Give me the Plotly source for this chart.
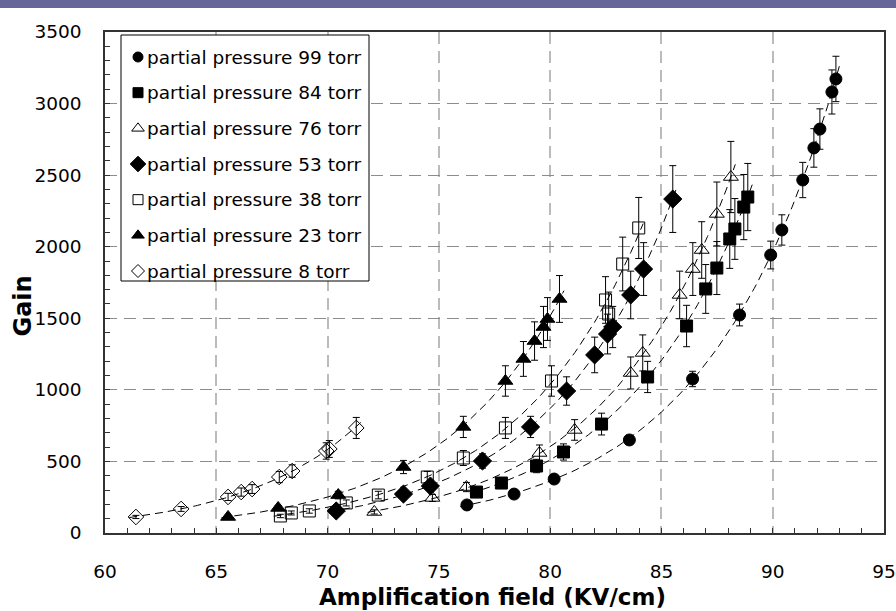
import numpy as np
import plotly.graph_objects as go

# ---- data ----
x99 = [76.26, 78.38, 80.18, 83.56, 86.40, 88.51, 89.91, 90.41, 91.35, 91.85, 92.12, 92.66, 92.84]
y99 = [196, 272, 377, 650, 1076, 1523, 1942, 2117, 2466, 2690, 2822, 3081, 3172]

x84 = [76.69, 77.81, 79.39, 80.60, 82.31, 84.38, 86.13, 86.99, 87.49, 88.07, 88.30, 88.70, 88.88]
y84 = [286, 349, 468, 566, 761, 1090, 1446, 1705, 1851, 2054, 2124, 2277, 2347]

x76 = [72.10, 74.71, 76.24, 79.52, 81.10, 83.62, 84.16, 85.82, 86.41, 86.81, 87.49, 88.12]
y76 = [147, 245, 321, 559, 720, 1118, 1258, 1663, 1844, 1977, 2229, 2487]

x53 = [70.39, 73.41, 74.62, 76.96, 79.12, 80.74, 82.00, 82.58, 82.81, 83.62, 84.20, 85.51]
y53 = [154, 272, 328, 503, 741, 992, 1244, 1390, 1439, 1663, 1844, 2333]

x38 = [67.88, 68.37, 69.18, 70.84, 72.28, 74.48, 76.10, 77.99, 80.06, 82.49, 82.63, 83.26, 83.98]
y38 = [119, 140, 154, 210, 265, 391, 524, 734, 1062, 1628, 1530, 1879, 2131]

x23 = [65.53, 67.78, 70.48, 73.41, 76.10, 77.99, 78.80, 79.30, 79.70, 79.88, 80.42]
y23 = [112, 175, 265, 461, 741, 1062, 1216, 1341, 1439, 1495, 1635]

x8 = [61.39, 63.42, 65.53, 66.12, 66.61, 67.83, 68.41, 69.94, 70.08, 71.29]
y8 = [112, 168, 252, 286, 307, 391, 433, 573, 587, 734]

names = ["partial pressure 99 torr", "partial pressure 84 torr", "partial pressure 76 torr",
         "partial pressure 53 torr", "partial pressure 38 torr", "partial pressure 23 torr",
         "partial pressure 8 torr"]
err_pct = [5, 10, 10, 10, 10, 10, 10]

xticks = [60, 65, 70, 75, 80, 85, 90, 95]
yticks = [0, 500, 1000, 1500, 2000, 2500, 3000, 3500]

series = [(x99, y99), (x84, y84), (x76, y76), (x53, y53), (x38, y38), (x23, y23), (x8, y8)]
symbols = ["circle", "square", "triangle-up-open", "diamond", "square-open", "triangle-up", "diamond-open"]
sizes = [12, 12, 13, 14, 12, 13, 12]
leg_sizes = [10, 10, 11, 12, 10, 11, 10]

FONT = "DejaVu Sans, Arial, sans-serif"
fig = go.Figure()

# fit curves (exponential fit of the data)
for (xs, ys) in series:
    xa = np.array(xs); ya = np.array(ys)
    b, a = np.polyfit(xa, np.log(ya), 1)
    xf = np.linspace(xa.min() - 0.3, xa.max() + 0.2, 120)
    fig.add_trace(go.Scatter(x=xf, y=np.exp(a + b * xf), mode="lines",
                             line=dict(color="black", width=1, dash="8px,5px"),
                             showlegend=False, hoverinfo="skip"))

for i, (xs, ys) in enumerate(series):
    fig.add_trace(go.Scatter(
        x=xs, y=ys, mode="markers", name=names[i], showlegend=False,
        marker=dict(symbol=symbols[i], size=sizes[i], color="black",
                    line=dict(color="black", width=1)),
        error_y=dict(type="percent", value=err_pct[i], color="black", thickness=1, width=3.5),
    ))

# ---- hand-made legend on a pixel-unit overlay axis ----
L_LEFT, L_RIGHT, L_TOP, L_BOT = 121, 369, 35, 281
row_y = list(np.linspace(57, 271, len(names)))
fig.add_trace(go.Scatter(x=[L_LEFT, L_RIGHT, L_RIGHT, L_LEFT, L_LEFT],
                         y=[L_TOP, L_TOP, L_BOT, L_BOT, L_TOP],
                         xaxis="x2", yaxis="y2", mode="lines", fill="toself",
                         fillcolor="white", line=dict(color="black", width=1),
                         showlegend=False, hoverinfo="skip"))
for i in range(len(names)):
    fig.add_trace(go.Scatter(x=[138], y=[row_y[i]], xaxis="x2", yaxis="y2", mode="markers",
                             marker=dict(symbol=symbols[i], size=leg_sizes[i], color="black",
                                         line=dict(color="black", width=1)),
                             showlegend=False, hoverinfo="skip"))
    fig.add_annotation(xref="x2", yref="y2", x=145, y=row_y[i], text=names[i],
                       xanchor="left", yanchor="middle", showarrow=False,
                       font=dict(size=18.5, family=FONT, color="black"))

# purple band at the top of the page
fig.add_shape(type="rect", xref="paper", yref="paper", x0=-0.2, x1=1.2,
              y0=1 + 24 / 501, y1=1 + 40 / 501, fillcolor="#666699", line=dict(width=0), layer="above")

fig.update_layout(
    width=896, height=611,
    margin=dict(l=105, r=12, t=32, b=78, autoexpand=False),
    paper_bgcolor="white", plot_bgcolor="white",
    font=dict(family=FONT, size=18.5, color="black"),
    showlegend=False,
    xaxis=dict(range=[60, 95], tickvals=xticks, ticks="inside", ticklen=5, tickcolor="#333",
               showline=True, linecolor="#333", linewidth=1.5, mirror=True, automargin=False,
               showgrid=True, gridcolor="#bbbbbb", gridwidth=2, griddash="12px,7px",
               minor=dict(dtick=1, ticks="inside", ticklen=5, tickcolor="#333", showgrid=False),
               ticklabelstandoff=21, zeroline=False),
    yaxis=dict(range=[0, 3500], tickvals=yticks, ticks="inside", ticklen=5, tickcolor="#333",
               showline=True, linecolor="#333", linewidth=1.5, mirror=True, automargin=False,
               showgrid=True, gridcolor="#8c8c8c", gridwidth=1, griddash="12px,7px",
               minor=dict(dtick=100, ticks="inside", ticklen=5, tickcolor="#333", showgrid=False),
               ticklabelstandoff=18, zeroline=False),
    xaxis2=dict(overlaying="x", range=[105, 884], visible=False, fixedrange=True, automargin=False),
    yaxis2=dict(overlaying="y", range=[533, 32], visible=False, fixedrange=True, automargin=False),
    annotations=list(fig.layout.annotations) + [
        dict(text="<b>Amplification field (KV/cm)</b>", xref="paper", yref="paper",
             x=0.498, y=-64 / 501, xanchor="center", yanchor="middle", showarrow=False,
             font=dict(size=23, family=FONT)),
        dict(text="<b>Gain</b>", xref="paper", yref="paper", textangle=-90,
             x=-82 / 779, y=0.452, xanchor="center", yanchor="middle", showarrow=False,
             font=dict(size=24, family=FONT)),
    ],
)

fig.write_html("out.html")
